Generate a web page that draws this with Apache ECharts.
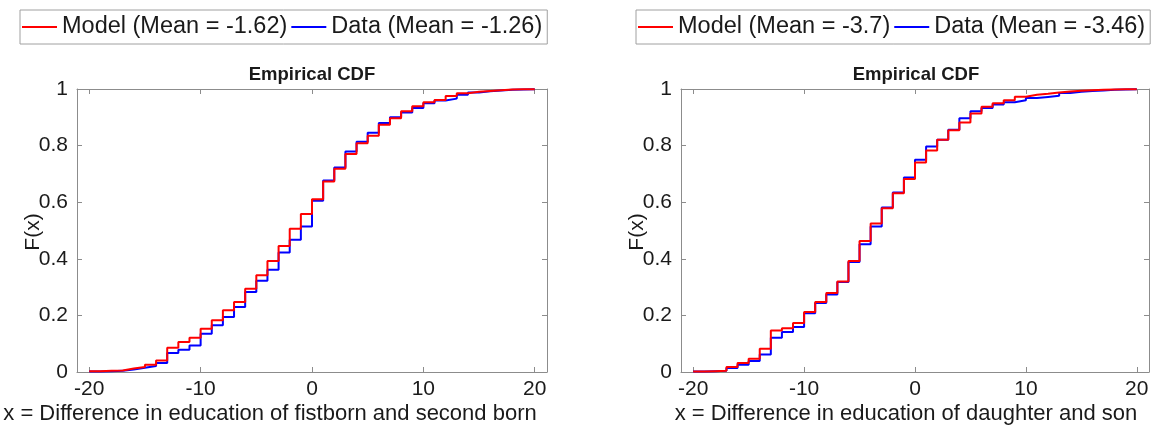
<!DOCTYPE html>
<html><head><meta charset="utf-8">
<script src="https://cdn.jsdelivr.net/npm/echarts@6/dist/echarts.min.js"></script>
<style>html,body{margin:0;padding:0;background:#fff}#c{width:1157px;height:431px}</style>
</head><body><div id="c"></div>
<script>
// x positions of the empirical CDF steps
const xValues = [-20,-19,-18,-17,-16,-15,-14,-13,-12,-11,-10,-9,-8,-7,-6,-5,-4,-3,-2,-1,0,1,2,3,4,5,6,7,8,9,10,11,12,13,14,15,16,17,18,19,20];
// Left panel: firstborn vs second born
const leftModel = [0.003,0.004,0.005,0.012,0.018,0.026,0.041,0.086,0.106,0.121,0.153,0.183,0.218,0.247,0.294,0.342,0.392,0.445,0.506,0.558,0.610,0.673,0.718,0.770,0.808,0.835,0.874,0.897,0.921,0.939,0.953,0.961,0.975,0.985,0.990,0.993,0.996,0.998,0.999,0.9995,1];
const leftData  = [0.002,0.003,0.004,0.009,0.015,0.021,0.032,0.067,0.079,0.094,0.135,0.165,0.194,0.230,0.283,0.322,0.361,0.422,0.467,0.514,0.605,0.677,0.723,0.779,0.814,0.845,0.880,0.900,0.917,0.933,0.950,0.959,0.966,0.980,0.988,0.992,0.995,0.997,0.998,0.999,1];
// Right panel: daughter vs son
const rightModel = [0.002,0.003,0.004,0.018,0.032,0.047,0.082,0.147,0.155,0.173,0.212,0.247,0.279,0.320,0.392,0.463,0.525,0.579,0.632,0.682,0.740,0.783,0.821,0.854,0.882,0.913,0.937,0.950,0.960,0.973,0.980,0.983,0.988,0.991,0.994,0.996,0.997,0.998,0.999,0.9995,1];
const rightData  = [0.002,0.003,0.004,0.014,0.026,0.039,0.062,0.121,0.141,0.159,0.208,0.244,0.274,0.318,0.389,0.451,0.514,0.581,0.634,0.687,0.750,0.797,0.821,0.856,0.897,0.921,0.933,0.945,0.953,0.960,0.968,0.972,0.976,0.986,0.990,0.993,0.995,0.997,0.998,0.999,1];
const xTicks = [-20,-10,0,10,20];
const leftNames = ['Model (Mean = -1.62)','Data (Mean = -1.26)'];
const rightNames = ['Model (Mean = -3.7)','Data (Mean = -3.46)'];
const panelTitle = 'Empirical CDF';
const yName = 'F(x)';
const leftXName = 'x = Difference in education of fistborn and second born';
const rightXName = 'x = Difference in education of daughter and son';

const FONT = "'Liberation Sans', Arial, Helvetica, sans-serif";
const TXT = '#1a1a1a';
const AX = '#8c8c8c';
const toPairs = ys => xValues.map((x,i)=>[x, ys[i]]);

function xAxes(gi){
  const base = {type:'value', gridIndex:gi, min:-21.1, max:21.1, splitLine:{show:false},
    axisLine:{show:true, onZero:false, lineStyle:{color:AX,width:1}}};
  return [
    Object.assign({}, base, {position:'bottom',
      axisTick:{show:true, inside:true, length:5, customValues:xTicks, lineStyle:{color:AX}},
      axisLabel:{show:true, customValues:xTicks, margin:7, color:TXT, fontSize:21, fontFamily:FONT}}),
    Object.assign({}, base, {position:'top',
      axisTick:{show:true, inside:true, length:5, customValues:xTicks, lineStyle:{color:AX}},
      axisLabel:{show:false}})
  ];
}
function yAxes(gi){
  const base = {type:'value', gridIndex:gi, min:0, max:1, interval:0.2, splitLine:{show:false},
    axisLine:{show:true, onZero:false, lineStyle:{color:AX,width:1}},
    axisTick:{show:true, inside:true, length:5, lineStyle:{color:AX}}};
  return [
    Object.assign({}, base, {position:'left',
      axisLabel:{show:true, margin:9, color:TXT, fontSize:21, fontFamily:FONT}}),
    Object.assign({}, base, {position:'right', axisLabel:{show:false}})
  ];
}
function line(name, data, color, xi, yi, z){
  return {type:'line', name, data:toPairs(data), step:'end', symbol:'none', showSymbol:false,
    xAxisIndex:xi, yAxisIndex:yi, z, color, lineStyle:{color, width:2}, silent:true, animation:false};
}
function legend(names, left){
  return {data:names, left, top:10, orient:'horizontal', padding:[5,5,5,2], itemGap:4,
    itemWidth:35, itemHeight:2, icon:'rect', borderColor:'#a0a0a0', borderWidth:1,
    backgroundColor:'#fff', textStyle:{fontSize:23.5, color:TXT, fontFamily:FONT}, selectedMode:false};
}

const chart = echarts.init(document.getElementById('c'), null, {renderer:'canvas'});
chart.setOption({
  backgroundColor:'#fff',
  animation:false,
  grid:[
    {left:77, top:89, width:470, height:283},
    {left:681, top:89, width:468, height:283}
  ],
  xAxis:[...xAxes(0), ...xAxes(1)],
  yAxis:[...yAxes(0), ...yAxes(1)],
  legend:[legend(leftNames, 20), legend(rightNames, 636)],
  series:[
    line(leftNames[1], leftData, '#0000ff', 0, 0, 2),
    line(leftNames[0], leftModel, '#ff0000', 0, 0, 3),
    line(rightNames[1], rightData, '#0000ff', 2, 2, 2),
    line(rightNames[0], rightModel, '#ff0000', 2, 2, 3)
  ],
  graphic:[
    {type:'text', x:312, y:75, style:{text:panelTitle, align:'center', verticalAlign:'middle', font:'bold 18.5px '+FONT, fill:TXT}},
    {type:'text', x:916, y:75, style:{text:panelTitle, align:'center', verticalAlign:'middle', font:'bold 18.5px '+FONT, fill:TXT}},
    {type:'text', x:33, y:232, rotation:Math.PI/2, style:{text:yName, align:'center', verticalAlign:'middle', font:'21px '+FONT, fill:TXT}},
    {type:'text', x:637, y:232, rotation:Math.PI/2, style:{text:yName, align:'center', verticalAlign:'middle', font:'21px '+FONT, fill:TXT}},
    {type:'text', x:270, y:414, style:{text:leftXName, align:'center', verticalAlign:'middle', font:'22px '+FONT, fill:TXT}},
    {type:'text', x:906, y:414, style:{text:rightXName, align:'center', verticalAlign:'middle', font:'22px '+FONT, fill:TXT}}
  ]
});
</script></body></html>
